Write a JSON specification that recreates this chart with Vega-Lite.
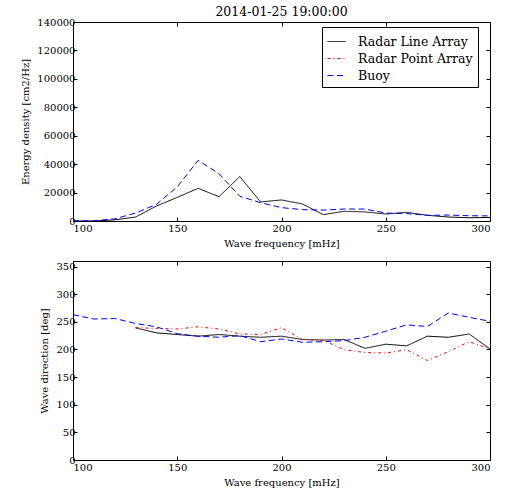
{
  "$schema": "https://vega.github.io/schema/vega-lite/v6.json",
  "padding": {"left": 20, "top": 5, "right": 5, "bottom": 5},
  "config": {
    "font": "DejaVu Serif",
    "view": {"stroke": "black", "strokeWidth": 1},
    "axis": {"grid": false, "domain": false, "tickColor": "black", "tickSize": -4, "labelColor": "black", "labelFontSize": 10, "titleFontSize": 10, "titleFontWeight": "normal", "titleColor": "black", "labelFont": "DejaVu Serif", "titleFont": "DejaVu Serif"},
    "axisX": {"labelPadding": 6, "titlePadding": 5},
    "axisY": {"labelPadding": 2, "titlePadding": 6},
    "legend": {"labelFont": "DejaVu Serif", "labelFontSize": 12.5, "labelColor": "black", "strokeColor": "black", "fillColor": "white", "padding": 5, "cornerRadius": 0}
  },
  "datasets": {
    "energy": [
      {"f": 100, "s": "Radar Line Array", "e": 0},
      {"f": 110, "s": "Radar Line Array", "e": 0},
      {"f": 120, "s": "Radar Line Array", "e": 800},
      {"f": 130, "s": "Radar Line Array", "e": 2800},
      {"f": 140, "s": "Radar Line Array", "e": 10500},
      {"f": 150, "s": "Radar Line Array", "e": 16600},
      {"f": 160, "s": "Radar Line Array", "e": 23000},
      {"f": 170, "s": "Radar Line Array", "e": 17100},
      {"f": 180, "s": "Radar Line Array", "e": 31200},
      {"f": 190, "s": "Radar Line Array", "e": 13400},
      {"f": 200, "s": "Radar Line Array", "e": 14800},
      {"f": 210, "s": "Radar Line Array", "e": 12000},
      {"f": 220, "s": "Radar Line Array", "e": 4500},
      {"f": 230, "s": "Radar Line Array", "e": 6800},
      {"f": 240, "s": "Radar Line Array", "e": 6400},
      {"f": 250, "s": "Radar Line Array", "e": 4900},
      {"f": 260, "s": "Radar Line Array", "e": 6100},
      {"f": 270, "s": "Radar Line Array", "e": 4000},
      {"f": 280, "s": "Radar Line Array", "e": 2800},
      {"f": 290, "s": "Radar Line Array", "e": 2300},
      {"f": 300, "s": "Radar Line Array", "e": 2500},
      {"f": 100, "s": "Buoy", "e": 0},
      {"f": 110, "s": "Buoy", "e": 200},
      {"f": 120, "s": "Buoy", "e": 1500},
      {"f": 130, "s": "Buoy", "e": 5600},
      {"f": 140, "s": "Buoy", "e": 11700},
      {"f": 150, "s": "Buoy", "e": 24000},
      {"f": 160, "s": "Buoy", "e": 42700},
      {"f": 170, "s": "Buoy", "e": 33300},
      {"f": 180, "s": "Buoy", "e": 17400},
      {"f": 190, "s": "Buoy", "e": 12900},
      {"f": 200, "s": "Buoy", "e": 9400},
      {"f": 210, "s": "Buoy", "e": 8000},
      {"f": 220, "s": "Buoy", "e": 7700},
      {"f": 230, "s": "Buoy", "e": 8400},
      {"f": 240, "s": "Buoy", "e": 8400},
      {"f": 250, "s": "Buoy", "e": 5600},
      {"f": 260, "s": "Buoy", "e": 5200},
      {"f": 270, "s": "Buoy", "e": 4000},
      {"f": 280, "s": "Buoy", "e": 4200},
      {"f": 290, "s": "Buoy", "e": 3700},
      {"f": 300, "s": "Buoy", "e": 3600}
    ],
    "direction": [
      {"f": 130, "s": "Radar Line Array", "d": 239},
      {"f": 140, "s": "Radar Line Array", "d": 230},
      {"f": 150, "s": "Radar Line Array", "d": 227},
      {"f": 160, "s": "Radar Line Array", "d": 224},
      {"f": 170, "s": "Radar Line Array", "d": 227},
      {"f": 180, "s": "Radar Line Array", "d": 224},
      {"f": 190, "s": "Radar Line Array", "d": 222},
      {"f": 200, "s": "Radar Line Array", "d": 224},
      {"f": 210, "s": "Radar Line Array", "d": 218},
      {"f": 220, "s": "Radar Line Array", "d": 217},
      {"f": 230, "s": "Radar Line Array", "d": 218},
      {"f": 240, "s": "Radar Line Array", "d": 202},
      {"f": 250, "s": "Radar Line Array", "d": 209.5},
      {"f": 260, "s": "Radar Line Array", "d": 206.5},
      {"f": 270, "s": "Radar Line Array", "d": 224},
      {"f": 280, "s": "Radar Line Array", "d": 222},
      {"f": 290, "s": "Radar Line Array", "d": 228},
      {"f": 300, "s": "Radar Line Array", "d": 201},
      {"f": 130, "s": "Radar Point Array", "d": 239.5},
      {"f": 140, "s": "Radar Point Array", "d": 238},
      {"f": 150, "s": "Radar Point Array", "d": 237},
      {"f": 160, "s": "Radar Point Array", "d": 241},
      {"f": 170, "s": "Radar Point Array", "d": 237},
      {"f": 180, "s": "Radar Point Array", "d": 228},
      {"f": 190, "s": "Radar Point Array", "d": 227},
      {"f": 200, "s": "Radar Point Array", "d": 239.5},
      {"f": 210, "s": "Radar Point Array", "d": 218},
      {"f": 220, "s": "Radar Point Array", "d": 216.5},
      {"f": 230, "s": "Radar Point Array", "d": 199.5},
      {"f": 240, "s": "Radar Point Array", "d": 194.5},
      {"f": 250, "s": "Radar Point Array", "d": 193.5},
      {"f": 260, "s": "Radar Point Array", "d": 199.5},
      {"f": 270, "s": "Radar Point Array", "d": 180},
      {"f": 280, "s": "Radar Point Array", "d": 196},
      {"f": 290, "s": "Radar Point Array", "d": 214},
      {"f": 300, "s": "Radar Point Array", "d": 201},
      {"f": 100, "s": "Buoy", "d": 263},
      {"f": 110, "s": "Buoy", "d": 255},
      {"f": 120, "s": "Buoy", "d": 256},
      {"f": 130, "s": "Buoy", "d": 247},
      {"f": 140, "s": "Buoy", "d": 241},
      {"f": 150, "s": "Buoy", "d": 228.5},
      {"f": 160, "s": "Buoy", "d": 224},
      {"f": 170, "s": "Buoy", "d": 222},
      {"f": 180, "s": "Buoy", "d": 225},
      {"f": 190, "s": "Buoy", "d": 214},
      {"f": 200, "s": "Buoy", "d": 219},
      {"f": 210, "s": "Buoy", "d": 213},
      {"f": 220, "s": "Buoy", "d": 214},
      {"f": 230, "s": "Buoy", "d": 216},
      {"f": 240, "s": "Buoy", "d": 222},
      {"f": 250, "s": "Buoy", "d": 233},
      {"f": 260, "s": "Buoy", "d": 244.5},
      {"f": 270, "s": "Buoy", "d": 241.5},
      {"f": 280, "s": "Buoy", "d": 266},
      {"f": 290, "s": "Buoy", "d": 258},
      {"f": 300, "s": "Buoy", "d": 251}
    ]
  },
  "spacing": 40,
  "bounds": "flush",
  "resolve": {"legend": {"color": "independent", "strokeDash": "independent"}},
  "vconcat": [
    {
      "width": 417,
      "height": 199,
      "title": {"text": "2014-01-25 19:00:00", "fontSize": 12.5, "fontWeight": "normal", "color": "black", "offset": -1.5, "anchor": "middle", "frame": "group", "font": "DejaVu Serif"},
      "data": {"name": "energy"},
      "resolve": {"axis": {"x": "independent", "y": "independent"}},
      "layer": [
        {
          "mark": {"type": "line", "strokeWidth": 1},
          "encoding": {
            "x": {"field": "f", "type": "quantitative", "scale": {"domain": [100, 300], "nice": false}, "axis": {"title": "Wave frequency [mHz]", "values": [100, 150, 200, 250, 300], "orient": "bottom"}},
            "y": {"field": "e", "type": "quantitative", "scale": {"domain": [0, 140000], "nice": false}, "axis": {"title": "Energy density [cm2/Hz]", "values": [0, 20000, 40000, 60000, 80000, 100000, 120000, 140000], "format": "d", "orient": "left"}},
            "color": {"field": "s", "type": "nominal", "scale": {"domain": ["Radar Line Array", "Radar Point Array", "Buoy"], "range": ["#000000", "#ff0000", "#0000ff"]}, "legend": {"title": null, "orient": "none", "legendX": 249, "legendY": 5, "symbolType": "stroke", "symbolSize": 324, "symbolStrokeWidth": 1, "labelOffset": 12, "rowPadding": 1, "encode": {"symbols": {"update": {"strokeDash": {"signal": "datum.value === 'Buoy' ? [6, 3.5] : (datum.value === 'Radar Point Array' ? [3, 3, 1, 3] : [1, 0])"}}}}}},
            "strokeDash": {"field": "s", "type": "nominal", "scale": {"domain": ["Radar Line Array", "Radar Point Array", "Buoy"], "range": [[1, 0], [3, 3, 1, 3], [6, 3.5]]}, "legend": null}
          }
        },
        {
          "mark": {"type": "line", "opacity": 0},
          "encoding": {
            "x": {"field": "f", "type": "quantitative", "scale": {"domain": [100, 300], "nice": false}, "axis": {"title": null, "labels": false, "values": [100, 150, 200, 250, 300], "orient": "top"}},
            "y": {"field": "e", "type": "quantitative", "scale": {"domain": [0, 140000], "nice": false}, "axis": {"title": null, "labels": false, "values": [0, 20000, 40000, 60000, 80000, 100000, 120000, 140000], "orient": "right"}},
            "detail": {"field": "s"}
          }
        }
      ]
    },
    {
      "width": 417,
      "height": 199,
      "data": {"name": "direction"},
      "resolve": {"axis": {"x": "independent", "y": "independent"}},
      "layer": [
        {
          "mark": {"type": "line", "strokeWidth": 1},
          "encoding": {
            "x": {"field": "f", "type": "quantitative", "scale": {"domain": [100, 300], "nice": false}, "axis": {"title": "Wave frequency [mHz]", "values": [100, 150, 200, 250, 300], "orient": "bottom"}},
            "y": {"field": "d", "type": "quantitative", "scale": {"domain": [0, 360], "nice": false}, "axis": {"title": "Wave direction [deg]", "values": [0, 50, 100, 150, 200, 250, 300, 350], "orient": "left"}},
            "color": {"field": "s", "type": "nominal", "scale": {"domain": ["Radar Line Array", "Radar Point Array", "Buoy"], "range": ["#000000", "#ff0000", "#0000ff"]}, "legend": null},
            "strokeDash": {"field": "s", "type": "nominal", "scale": {"domain": ["Radar Line Array", "Radar Point Array", "Buoy"], "range": [[1, 0], [3, 3, 1, 3], [6, 3.5]]}, "legend": null}
          }
        },
        {
          "mark": {"type": "line", "opacity": 0},
          "encoding": {
            "x": {"field": "f", "type": "quantitative", "scale": {"domain": [100, 300], "nice": false}, "axis": {"title": null, "labels": false, "values": [100, 150, 200, 250, 300], "orient": "top"}},
            "y": {"field": "d", "type": "quantitative", "scale": {"domain": [0, 360], "nice": false}, "axis": {"title": null, "labels": false, "values": [0, 50, 100, 150, 200, 250, 300, 350], "orient": "right"}},
            "detail": {"field": "s"}
          }
        }
      ]
    }
  ]
}
